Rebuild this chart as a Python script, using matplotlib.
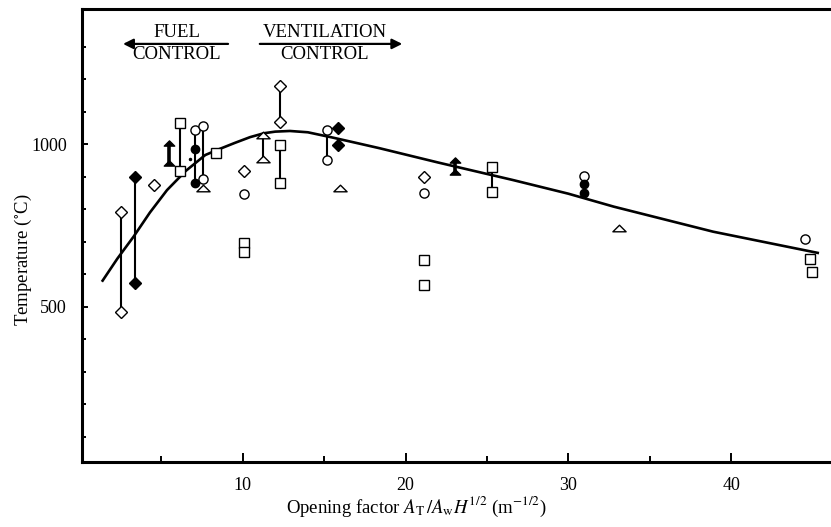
import matplotlib
matplotlib.use("Agg")
import matplotlib.pyplot as plt
from matplotlib.path import Path
import numpy as np

plt.rcParams['font.family'] = ['Liberation Serif', 'DejaVu Serif']
plt.rcParams['mathtext.fontset'] = 'stix'

# ---- data ----
curve_x = [1.35, 2.3, 3.3, 4.3, 5.35, 6.5, 7.7, 8.6, 9.5, 10.45, 11.3, 12.0, 12.9,
           14.0, 15.5, 17.0, 18.4, 22.0, 26.6, 30.0, 32.8, 38.9, 45.4]
curve_y = [577, 648, 716, 790, 859, 918, 967, 986, 1004, 1022, 1034, 1039, 1041,
           1037, 1021, 1004, 988, 944, 890, 848, 808, 731, 665]

open_diamond_x = [2.52, 2.50, 4.55, 10.08, 12.29, 12.29, 21.14]
open_diamond_y = [792, 484, 875, 919, 1180, 1068, 900]

filled_diamond_x = [3.38, 3.38, 15.87, 15.87]
filled_diamond_y = [900, 574, 1051, 998]

open_square_x = [6.15, 6.15, 8.36, 10.08, 10.08, 12.29, 12.29, 21.14, 21.14, 25.33, 25.33, 44.85, 44.95]
open_square_y = [1065, 919, 974, 697, 669, 998, 880, 644, 567, 929, 852, 647, 606]

open_circle_x = [7.09, 7.58, 7.58, 10.08, 15.16, 15.16, 21.14, 30.98, 44.54]
open_circle_y = [1044, 1057, 892, 847, 1044, 952, 851, 903, 708]

filled_circle_x = [7.09, 7.09, 30.98, 30.98]
filled_circle_y = [986, 880, 878, 851]

open_triangle_x = [7.57, 11.27, 11.27, 16.0, 33.11]
open_triangle_y = [865, 1029, 954, 865, 741]

filled_triangle_x = [5.47, 5.47, 23.04, 23.04]
filled_triangle_y = [1003, 942, 952, 916]

dot_x = [6.76]
dot_y = [954]

# vertical range bars: x, low, high
bar_x    = [2.51, 3.38, 6.15, 7.09, 7.58, 11.27, 12.29, 12.29, 15.16, 25.33]
bar_low  = [484, 574, 919, 880, 892, 954, 1068, 880, 952, 852]
bar_high = [792, 900, 1065, 1044, 1057, 1029, 1180, 998, 1044, 929]

stem_x    = [5.47, 23.04]
stem_low  = [942, 916]
stem_high = [1003, 952]

x_major = [10, 20, 30, 40]
x_minor = [5, 15, 25, 35]
y_major = [500, 1000]
y_minor = [100, 200, 300, 400, 600, 700, 800, 900, 1100, 1200, 1300]

# ---- figure ----
W, H = 831, 527
fig = plt.figure(figsize=(W / 100, H / 100), dpi=100)
left_px, right_px, top_px, bot_px = 82, 831, 8.5, 461.7
ax = fig.add_axes([left_px / W, 1 - bot_px / H, (right_px - left_px) / W, (bot_px - top_px) / H])

px_per_x = 16.28
x0_px = 79.9
px_per_y = 0.3249
ax.set_xlim((left_px - x0_px) / px_per_x, (right_px - x0_px) / px_per_x)
ax.set_ylim(1000 - (bot_px - 144.3) / px_per_y, 1000 + (144.3 - top_px) / px_per_y)

# curve
ax.plot(curve_x, curve_y, color='black', lw=1.9, zorder=2, solid_capstyle='butt')

# range bars
ax.vlines(bar_x, bar_low, bar_high, color='black', lw=1.5, zorder=2)
ax.vlines(stem_x, stem_low, stem_high, color='black', lw=2.6, zorder=2)

flat_tri = Path([(-1, -0.5), (1, -0.5), (0, 0.5), (-1, -0.5)],
                [Path.MOVETO, Path.LINETO, Path.LINETO, Path.CLOSEPOLY])

kw_open = dict(ls='none', mfc='white', mec='black', mew=1.0, zorder=3)
kw_fill = dict(ls='none', mfc='black', mec='black', mew=1.0, zorder=3)

ax.plot(open_diamond_x, open_diamond_y, marker='D', ms=6.0, **kw_open)
ax.plot(filled_diamond_x, filled_diamond_y, marker='D', ms=6.0, **kw_fill)
ax.plot(open_square_x, open_square_y, marker='s', ms=6.6, **kw_open)
ax.plot(open_circle_x, open_circle_y, marker='o', ms=6.6, **kw_open)
ax.plot(filled_circle_x, filled_circle_y, marker='o', ms=6.0, **kw_fill)
ax.plot(open_triangle_x, open_triangle_y, marker=flat_tri, ms=9.5, **kw_open)
ax.plot(filled_triangle_x, filled_triangle_y, marker=flat_tri, ms=7.5, **kw_fill)
ax.plot(dot_x, dot_y, marker='o', ms=1.5, ls='none', color='black', zorder=3)

# annotations
fs = 13.5
ax.text(5.95, 1344, 'FUEL', ha='center', va='center', fontsize=fs)
ax.text(5.95, 1275, 'CONTROL', ha='center', va='center', fontsize=fs)
ax.text(15.05, 1344, 'VENTILATION', ha='center', va='center', fontsize=fs)
ax.text(15.05, 1275, 'CONTROL', ha='center', va='center', fontsize=fs)
arrow_kw = dict(arrowstyle='-|>,head_length=0.6,head_width=0.3', color='black', lw=1.6,
                shrinkA=0, shrinkB=0)
ax.annotate('', xy=(2.65, 1309), xytext=(9.1, 1309), arrowprops=arrow_kw)
ax.annotate('', xy=(19.8, 1309), xytext=(11.05, 1309), arrowprops=arrow_kw)

# axes styling
for s in ['left', 'bottom', 'top']:
    ax.spines[s].set_linewidth(2.2)
ax.spines['right'].set_visible(False)

ax.set_xticks(x_major)
ax.set_xticks(x_minor, minor=True)
ax.set_yticks(y_major)
ax.set_yticks(y_minor, minor=True)
ax.tick_params(axis='x', which='major', direction='in', length=6.5, width=1.4, pad=11, labelsize=13)
ax.tick_params(axis='x', which='minor', direction='in', length=4.3, width=1.4)
ax.tick_params(axis='y', which='major', direction='in', length=4.3, width=1.4, pad=11, labelsize=13)
ax.tick_params(axis='y', which='minor', direction='in', length=3.0, width=1.4)
ax.tick_params(top=False, right=False, which='both')

ax.set_xlabel(r'Opening factor $A_{\mathrm{T}}\,/A_{\mathrm{w}}H^{1/2}$ (m$^{-1/2}$)', fontsize=13.5)
ax.xaxis.set_label_coords((416 - left_px) / (right_px - left_px), -(507 - bot_px) / (bot_px - top_px))
ax.xaxis.label.set_va('center')
ax.set_ylabel(r'Temperature ($^{\circ}$C)', fontsize=13.5)
ax.yaxis.set_label_coords(-(left_px - 23) / (right_px - left_px), (bot_px - 260) / (bot_px - top_px))
ax.yaxis.label.set_va('center')

fig.savefig('out.png', dpi=100)
